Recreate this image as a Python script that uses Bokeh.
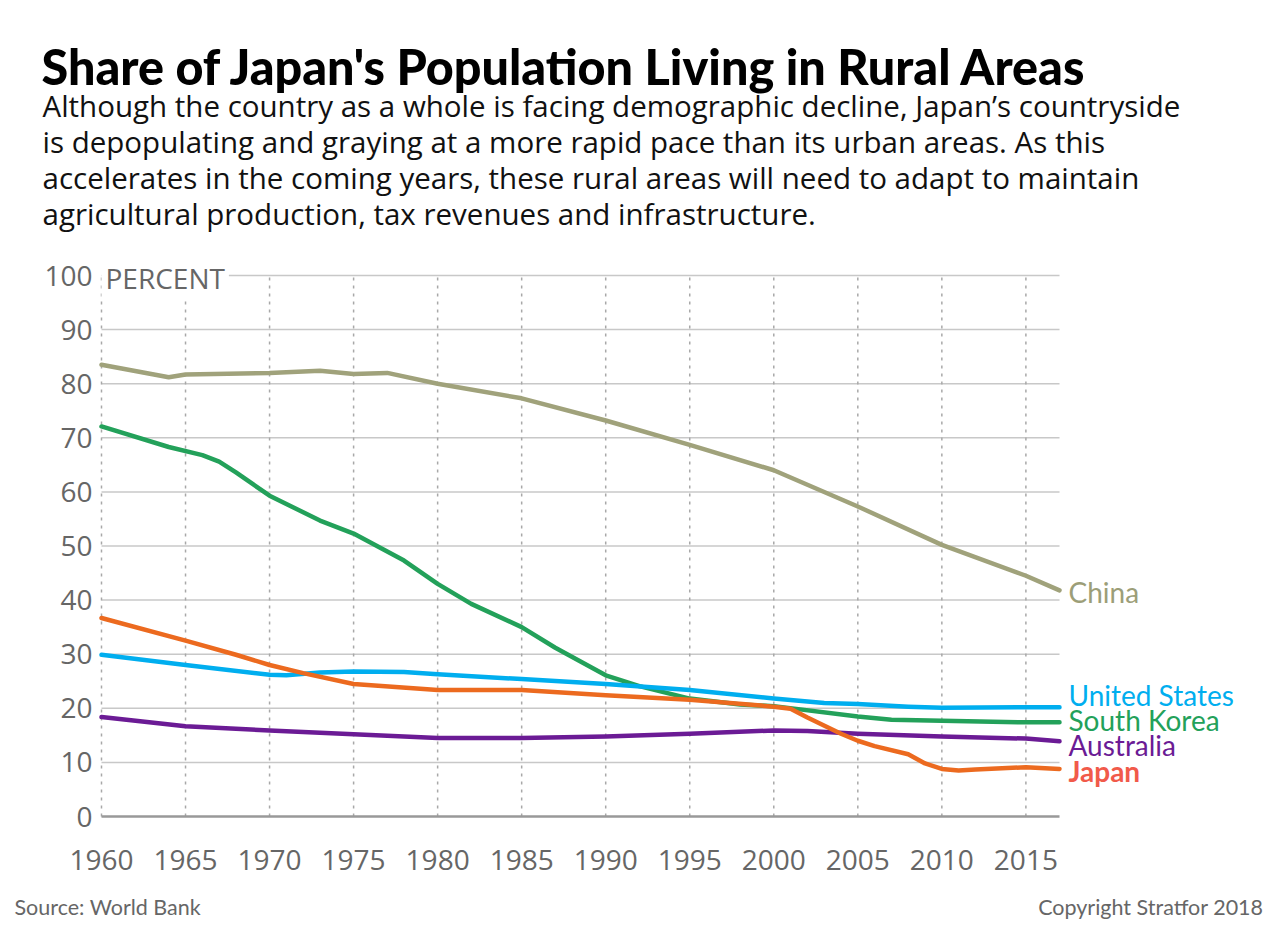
from bokeh.plotting import figure
from bokeh.models import Range1d, FixedTicker, Label
from bokeh.embed import file_html
from bokeh.resources import INLINE

# Rural population, % of total (World Bank)
china_years = [1960, 1964, 1965, 1970, 1973, 1975, 1977, 1980, 1985, 1990, 1995, 2000, 2005, 2010, 2015, 2017]
china_vals = [83.5, 81.2, 81.7, 82.0, 82.4, 81.8, 82.0, 80.0, 77.3, 73.2, 68.7, 64.0, 57.3, 50.2, 44.5, 41.8]

korea_years = [1960, 1964, 1966, 1967, 1968, 1970, 1973, 1975, 1978, 1980, 1982, 1985, 1987, 1990, 1992, 1995,
               1998, 2000, 2005, 2007, 2010, 2015, 2017]
korea_vals = [72.1, 68.3, 66.8, 65.6, 63.6, 59.3, 54.7, 52.3, 47.3, 43.0, 39.3, 35.0, 31.2, 26.1, 24.1, 21.8,
              20.7, 20.4, 18.5, 17.9, 17.7, 17.4, 17.4]

us_years = [1960, 1965, 1970, 1971, 1973, 1975, 1978, 1980, 1985, 1990, 1995, 2000, 2003, 2005, 2008, 2010, 2015, 2017]
us_vals = [29.9, 28.0, 26.2, 26.1, 26.6, 26.8, 26.7, 26.3, 25.4, 24.5, 23.4, 21.8, 21.0, 20.8, 20.3, 20.1, 20.2, 20.2]

japan_years = [1960, 1965, 1968, 1970, 1972, 1975, 1980, 1985, 1990, 1995, 2000, 2001, 2002, 2004, 2005, 2006,
               2008, 2009, 2010, 2011, 2012, 2015, 2017]
japan_vals = [36.7, 32.5, 29.9, 28.0, 26.5, 24.5, 23.4, 23.4, 22.4, 21.6, 20.3, 19.9, 18.3, 15.3, 14.0, 13.0,
              11.5, 9.8, 8.8, 8.5, 8.7, 9.1, 8.8]

australia_years = [1960, 1965, 1970, 1975, 1980, 1985, 1990, 1995, 2000, 2002, 2005, 2010, 2015, 2017]
australia_vals = [18.4, 16.7, 15.9, 15.2, 14.5, 14.5, 14.8, 15.3, 15.9, 15.8, 15.3, 14.8, 14.4, 13.9]

x_ticks = [1960, 1965, 1970, 1975, 1980, 1985, 1990, 1995, 2000, 2005, 2010, 2015]
y_ticks = [0, 10, 20, 30, 40, 50, 60, 70, 80, 90, 100]

W, H = 1280, 939
# pixel box of the plotting area on the page
LEFT, RIGHT, TOP, BOTTOM = 101, 1059, 275, 816
X0, X1, Y0, Y1 = 1960, 2017, 0, 100

# the frame covers the whole page, so the ranges are widened to keep the data box in place
kx = (RIGHT - LEFT) / (X1 - X0)
ky = (BOTTOM - TOP) / (Y1 - Y0)
x_range = Range1d(X0 - LEFT / kx, X1 + (W - RIGHT) / kx)
y_range = Range1d(Y0 - (H - BOTTOM) / ky, Y1 + TOP / ky)

TITLE_FONT = "Lato Black, Lato, sans-serif"
BODY_FONT = "Open Sans"
LABEL_FONT = "Lato"
AXIS_FONT = "Open Sans"
GREY = "#666666"

p = figure(width=W, height=H, output_backend="svg", toolbar_location=None,
           x_range=x_range, y_range=y_range,
           min_border=0, min_border_left=0, min_border_right=0,
           min_border_top=0, min_border_bottom=0)
p.outline_line_color = None
p.background_fill_color = "white"
p.border_fill_color = "white"
p.grid.visible = False

# axes pinned to the data box
p.xaxis.fixed_location = Y0
p.yaxis.fixed_location = X0
p.xaxis.ticker = FixedTicker(ticks=x_ticks)
p.yaxis.ticker = FixedTicker(ticks=y_ticks)
for ax in (p.xaxis, p.yaxis):
    ax.axis_line_color = None
    ax.major_tick_line_color = None
    ax.minor_tick_line_color = None
    ax.major_tick_out = 0
    ax.major_tick_in = 0
    ax.major_label_text_font = AXIS_FONT
    ax.major_label_text_font_size = "28px"
    ax.major_label_text_color = GREY
p.yaxis.major_label_standoff = 9
p.xaxis.major_label_standoff = 33

# grid lines limited to the data box
h_levels = [t for t in y_ticks if t != Y0]
p.segment(x0=[X0] * len(h_levels), y0=h_levels, x1=[X1] * len(h_levels), y1=h_levels,
          line_color="#c8c8c8", line_width=1.5)
p.segment(x0=x_ticks, y0=[Y0] * len(x_ticks), x1=x_ticks, y1=[Y1] * len(x_ticks),
          line_color="#a8a8a8", line_width=1.5, line_dash="3 5")
p.segment(x0=[X0], y0=[Y0], x1=[X1], y1=[Y0], line_color="#999999", line_width=2.5)

# series
series = [
    (china_years, china_vals, "#a0a27b"),
    (korea_years, korea_vals, "#23a15a"),
    (us_years, us_vals, "#00aeef"),
    (australia_years, australia_vals, "#6b1b95"),
    (japan_years, japan_vals, "#ec6a1f"),
]
for xs, ys, col in series:
    p.line(xs, ys, line_color=col, line_width=4.5, line_join="round", line_cap="round")


def page_label(x, y, text, size, color, font=LABEL_FONT, style="normal", align="left",
               baseline="middle", **kw):
    """Place text using page pixel coordinates (origin at top-left)."""
    p.add_layout(Label(x=x, y=H - y, x_units="screen", y_units="screen",
                       text=text, text_font_size=f"{size}px", text_color=color,
                       text_font=font, text_font_style=style, text_align=align,
                       text_baseline=baseline, **kw))


# unit tag next to the 100 tick
page_label(101, 277, "PERCENT", 28, GREY, font=AXIS_FONT,
           background_fill_color="white", background_fill_alpha=1.0, padding=4)

# series labels
page_label(1068, 591, "China", 28, "#9c9e78")
page_label(1068, 694, "United States", 28, "#00aeef")
page_label(1068, 719, "South Korea", 28, "#23a15a")
page_label(1068, 744, "Australia", 28, "#6b1b95")
page_label(1068, 770, "Japan", 28, "#f15a4a", style="bold")

# title and description
page_label(41, 65, "Share of Japan's Population Living in Rural Areas", 48.5, "#000000",
           font=TITLE_FONT, style="bold", baseline="alphabetic")
sub_lines = [
    "Although the country as a whole is facing demographic decline, Japan\u2019s countryside",
    "is depopulating and graying at a more rapid pace than its urban areas. As this",
    "accelerates in the coming years, these rural areas will need to adapt to maintain",
    "agricultural production, tax revenues and infrastructure.",
]
for i, line in enumerate(sub_lines):
    page_label(42, 105 + 36 * i, line, 29.5, "#111111", font=BODY_FONT, baseline="alphabetic")

# footer
page_label(14, 906, "Source: World Bank", 21.5, GREY)
page_label(1263, 906, "Copyright Stratfor 2018", 21.5, GREY, align="right")

open("out.html", "w").write(file_html(p, INLINE))
